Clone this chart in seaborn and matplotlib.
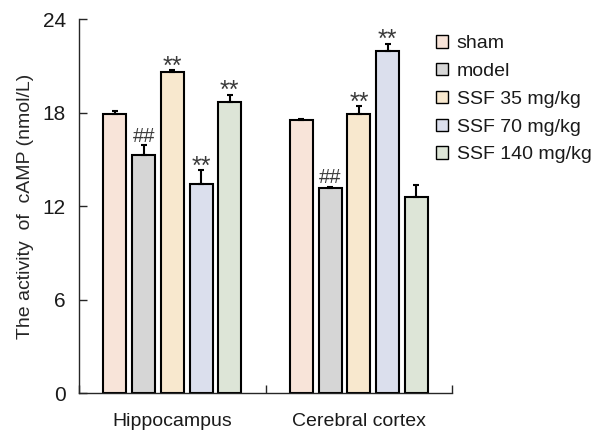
import pandas as pd
import matplotlib.pyplot as plt
import seaborn as sns

regions = ["Hippocampus", "Cerebral cortex"]
groups = ["sham", "model", "SSF 35 mg/kg", "SSF 70 mg/kg", "SSF 140 mg/kg"]
hippo_mean = [17.9, 15.25, 20.6, 13.4, 18.7]
hippo_err = [0.2, 0.65, 0.12, 0.9, 0.45]
cortex_mean = [17.5, 13.15, 17.9, 21.95, 12.55]
cortex_err = [0.1, 0.1, 0.5, 0.47, 0.77]
hippo_marks = ["", "##", "**", "**", "**"]
cortex_marks = ["", "##", "**", "**", ""]
colors = ["#FDE3D4", "#D6D6D6", "#FFEAC7", "#D8DEF0", "#DDE7D5"]

df = pd.DataFrame({
    "region": [regions[0]] * 5 + [regions[1]] * 5,
    "group": groups * 2,
    "mean": hippo_mean + cortex_mean,
    "err": hippo_err + cortex_err,
    "mark": hippo_marks + cortex_marks,
})

sns.set_style("ticks")
plt.rcParams['font.family'] = ['Liberation Sans', 'DejaVu Sans']
plt.rcParams['text.color'] = '#1a1a1a'

fig, ax = plt.subplots(figsize=(5.95, 4.32), dpi=100)
fig.subplots_adjust(left=0.133, right=0.76, bottom=0.09, top=0.956)

sns.barplot(data=df, x="region", y="mean", hue="group", order=regions,
            hue_order=groups, palette=colors, errorbar=None, width=0.77,
            gap=0.2, edgecolor="black", linewidth=1.5, ax=ax)

for cont, g in zip(ax.containers, groups):
    sub = df[df["group"] == g].set_index("region").loc[regions]
    for bar, m, e, mk in zip(cont, sub["mean"], sub["err"], sub["mark"]):
        xc = bar.get_x() + bar.get_width() / 2
        ax.errorbar(xc, m, yerr=[[0], [e]], fmt="none", ecolor="black",
                    elinewidth=1.5, capsize=2, capthick=1.5)
        if mk == "**":
            ax.annotate(mk, (xc, m + e), xytext=(0, -2.5), textcoords="offset points",
                        ha="center", va="baseline", fontsize=18, color="#3a3a3a")
        elif mk:
            ax.annotate(mk, (xc, m + e), xytext=(0, 2.5), textcoords="offset points",
                        ha="center", va="baseline", fontsize=14.5, color="#3a3a3a")

ax.set_ylim(0, 24)
ax.set_yticks([0, 6, 12, 18, 24])
ax.set_xlim(-0.5, 1.5)
ax.set_xticks([-0.5, 0.5, 1.5], minor=True)
ax.tick_params(axis="x", which="major", length=0, labelsize=14, pad=14,
               labelcolor="#1a1a1a")
ax.tick_params(axis="x", which="minor", direction="in", length=6, width=1)
ax.tick_params(axis="y", direction="in", length=6, width=1, labelsize=15, pad=9.5,
               labelcolor="#1a1a1a")
ax.set_xlabel("")
ax.set_ylabel("The activity  of  cAMP (nmol/L)", fontsize=14, labelpad=6)
sns.despine(ax=ax)
for s in ["left", "bottom"]:
    ax.spines[s].set_linewidth(1)

ax.legend(loc="upper left", bbox_to_anchor=(0.733, 0.918),
          bbox_transform=fig.transFigure, frameon=False,
          fontsize=14, handlelength=0.6, handleheight=0.6, handletextpad=0.45,
          labelspacing=0.55, borderaxespad=0, borderpad=0)
for h in ax.get_legend().legend_handles:
    h.set_linewidth(1)

plt.savefig("out.png", dpi=100)
